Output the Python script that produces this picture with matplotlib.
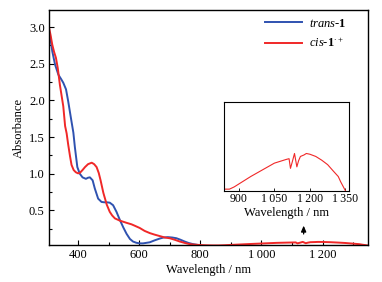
import matplotlib
matplotlib.use("Agg")
import matplotlib.pyplot as plt
from matplotlib.ticker import MultipleLocator, FixedLocator, FuncFormatter

plt.rcParams['font.family'] = ['Liberation Serif', 'DejaVu Serif']
plt.rcParams['mathtext.fontset'] = 'custom'
plt.rcParams['mathtext.rm'] = 'Liberation Serif'
plt.rcParams['mathtext.it'] = 'Liberation Serif:italic'
plt.rcParams['mathtext.bf'] = 'Liberation Serif:bold'

# trans-1 spectrum
trans_wl = [305, 309, 316, 325, 336, 345, 352, 361, 368, 377, 385, 390, 398, 406, 415,
            426, 433, 439, 448, 455, 466, 477, 486, 494, 504, 515, 526, 537, 548, 559,
            570, 580, 591, 602, 613, 635, 650, 667, 680, 694, 708, 722, 735, 749, 762,
            776, 790, 800]
trans_abs = [2.93, 2.88, 2.67, 2.49, 2.35, 2.29, 2.24, 2.15, 1.99, 1.76, 1.56, 1.36, 1.09,
             1.00, 0.95, 0.93, 0.945, 0.95, 0.91, 0.80, 0.66, 0.615, 0.61, 0.61, 0.605,
             0.57, 0.48, 0.37, 0.27, 0.18, 0.11, 0.075, 0.058, 0.05, 0.05, 0.065, 0.09,
             0.115, 0.13, 0.135, 0.13, 0.12, 0.10, 0.075, 0.055, 0.04, 0.03, 0.025]

# cis-1 radical cation spectrum (Vis + NIR)
cis_wl = [305, 310, 316, 322, 328, 334, 341, 352, 358, 363, 368, 374, 379, 386, 393,
          400, 406, 415, 423, 433, 445, 453, 461, 468, 474, 483, 494, 504, 512, 521,
          537, 559, 575, 586, 602, 618, 635, 650, 667, 684, 700, 716, 733, 750, 765,
          780, 798, 820, 840, 860, 880, 900, 950, 1000, 1050, 1100, 1112, 1118, 1125,
          1135, 1145, 1152, 1160, 1175, 1185, 1200, 1225, 1250, 1275, 1300, 1320, 1330,
          1340, 1350]
cis_abs = [3.00, 2.90, 2.76, 2.66, 2.58, 2.44, 2.21, 1.92, 1.65, 1.55, 1.40, 1.24, 1.12,
           1.05, 1.02, 1.005, 1.01, 1.05, 1.09, 1.13, 1.15, 1.13, 1.09, 1.01, 0.91, 0.74,
           0.58, 0.48, 0.43, 0.39, 0.36, 0.33, 0.31, 0.29, 0.26, 0.22, 0.19, 0.17, 0.15,
           0.13, 0.12, 0.10, 0.075, 0.055, 0.04, 0.033, 0.028, 0.024, 0.022, 0.022,
           0.025, 0.029, 0.039, 0.048, 0.057, 0.062, 0.063, 0.050, 0.058, 0.070, 0.052,
           0.060, 0.066, 0.068, 0.070, 0.069, 0.066, 0.061, 0.055, 0.046, 0.039, 0.032,
           0.026, 0.020]

main_xticks = [400, 600, 800, 1000, 1200]
inset_xticks = [900, 1050, 1200, 1350]
y_ticks = [0.5, 1.0, 1.5, 2.0, 2.5, 3.0]

blue = '#2f52b0'
red = '#f02828'
FS = 9

def fmt(v, pos=None):
    v = int(round(v))
    if v >= 1000:
        return '%d\u2009%03d' % (v // 1000, v % 1000)
    return '%d' % v

fig = plt.figure(figsize=(3.82, 2.82), dpi=100)
ax = fig.add_axes([0.128, 0.131, 0.835, 0.833])
ax.plot(trans_wl, trans_abs, color=blue, lw=1.4, label=r'$\mathit{trans}$-$\mathbf{1}$')
ax.plot(cis_wl, cis_abs, color=red, lw=1.4, label=r'$\mathit{cis}$-$\mathbf{1}^{\cdot+}$')
ax.set_xlim(305, 1348)
ax.set_ylim(0.027, 3.23)
ax.xaxis.set_major_locator(FixedLocator(main_xticks))
ax.xaxis.set_minor_locator(MultipleLocator(100))
ax.xaxis.set_major_formatter(FuncFormatter(fmt))
ax.yaxis.set_major_locator(FixedLocator(y_ticks))
ax.yaxis.set_minor_locator(MultipleLocator(0.25))
ax.yaxis.set_major_formatter(FuncFormatter(lambda v, p: '%.1f' % v))
ax.tick_params(which='both', direction='in', labelsize=FS, width=0.8)
ax.tick_params(which='major', length=3.5, pad=3)
ax.tick_params(which='minor', length=2)
for s in ax.spines.values():
    s.set_linewidth(1.0)
ax.set_xlabel('Wavelength / nm', fontsize=FS, labelpad=2)
ax.set_ylabel('Absorbance', fontsize=FS, labelpad=3)
ax.legend(loc='upper right', bbox_to_anchor=(0.947, 0.99), frameon=False, fontsize=FS,
          handlelength=3.0, handletextpad=0.5, labelspacing=0.55, borderaxespad=0)
ax.annotate('', xy=(1138, 0.33), xytext=(1138, 0.14),
            arrowprops=dict(arrowstyle='-|>,head_length=0.35,head_width=0.15', color='black', lw=0.9))

ins = fig.add_axes([0.587, 0.324, 0.327, 0.3135])
ins.plot(cis_wl, cis_abs, color=red, lw=0.8)
ins.set_xlim(838, 1366)
ins.set_ylim(0.02, 0.139)
ins.xaxis.set_major_locator(FixedLocator(inset_xticks))
ins.xaxis.set_major_formatter(FuncFormatter(fmt))
ins.set_yticks([])
ins.tick_params(direction='in', labelsize=8.5, length=2, width=0.6, pad=2)
for s in ins.spines.values():
    s.set_linewidth(0.8)
ins.set_xlabel('Wavelength / nm', fontsize=FS, labelpad=1)

fig.savefig('out.png', dpi=100)
